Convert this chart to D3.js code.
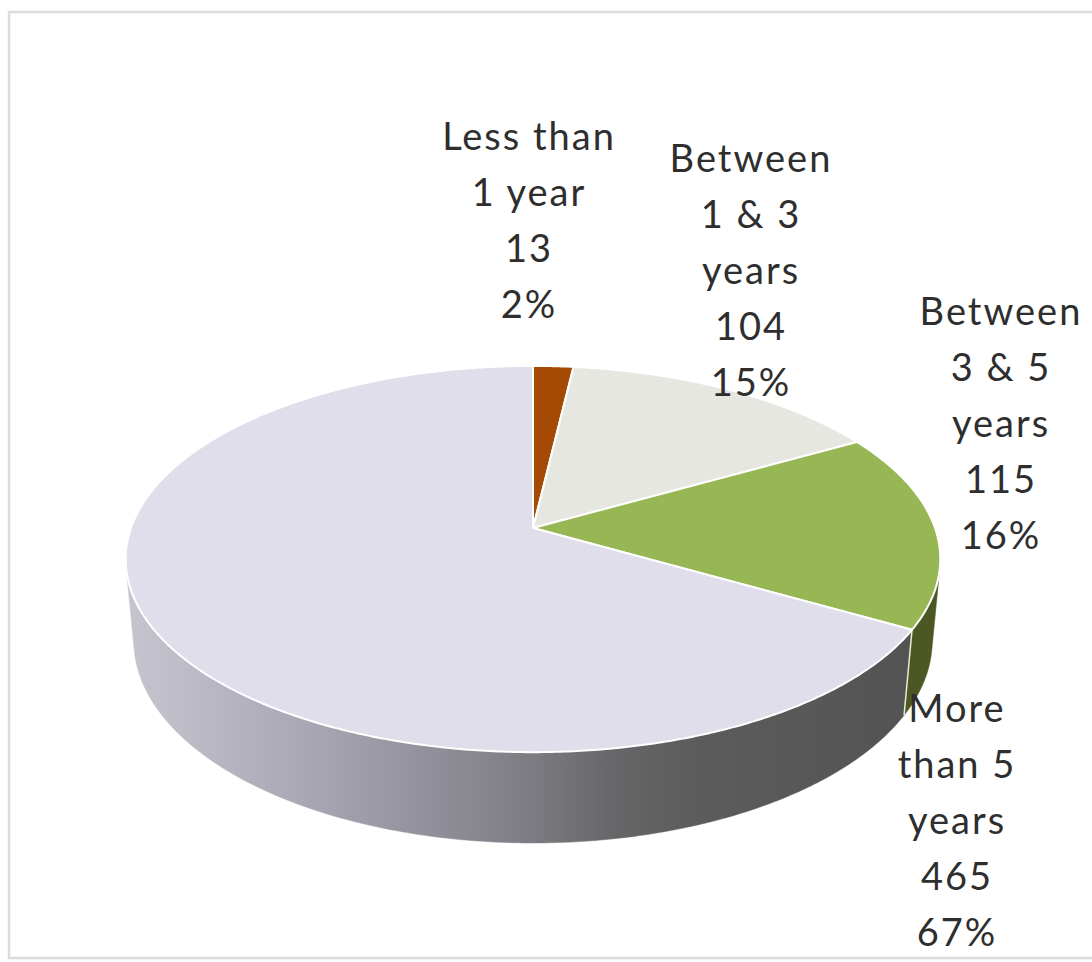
<!DOCTYPE html>
<html>
<head>
<meta charset="utf-8">
<script src="https://cdn.jsdelivr.net/npm/d3@7"></script>
<style>
  html, body { margin: 0; padding: 0; background: #ffffff; }
  svg { display: block; }
</style>
</head>
<body>
<script>
// Years of experience, split into four bands
const categories = ["Less than 1 year", "Between 1 & 3 years", "Between 3 & 5 years", "More than 5 years"];
const labelLines = [["Less than", "1 year"], ["Between", "1 & 3", "years"], ["Between", "3 & 5", "years"], ["More", "than 5", "years"]];
const values = [13, 104, 115, 465];

const topColors  = ["#a44a04", "#e7e7e2", "#97b755", "#dfdeea"];
const sideColors = ["#5e2a02", "#9a9a94", "#4b5823", "url(#sideGrad)"];

// label anchors: centre x and first baseline y
const labelPos = [[529, 150], [751, 172], [1001, 325], [957, 722]];
const lineGap = 56;

const W = 1092, H = 962;
const svg = d3.select("body").append("svg").attr("width", W).attr("height", H);

// chart area frame
svg.append("rect")
  .attr("x", 9).attr("y", 12).attr("width", 1100).attr("height", 946)
  .attr("fill", "none").attr("stroke", "#dcdcdc").attr("stroke-width", 2.5);

// perspective disc: centre, scale, tilt, camera distance, thickness
const cx = 533, cy = 528, K = 402;
const phi = Math.asin(0.468);
const sinP = Math.sin(phi), cosP = Math.cos(phi);
const Dcam = 5.5, thick = 0.232;

function project(theta, r, h) {
  const x = r * Math.sin(theta), z = -r * Math.cos(theta), y = h;
  const d = z * cosP + y * sinP;
  const s = Dcam / (Dcam - d);
  return [cx + x * s * K, cy + (z * sinP - y * cosP) * s * K];
}

function rimPoints(a0, a1, h) {
  const n = Math.max(2, Math.ceil(Math.abs(a1 - a0) / (Math.PI / 360)));
  const pts = [];
  for (let i = 0; i <= n; i++) pts.push(project(a0 + (a1 - a0) * i / n, 1, h));
  return pts;
}

const line = d3.line().curve(d3.curveLinear);

const defs = svg.append("defs");
const grad = defs.append("linearGradient")
  .attr("id", "sideGrad").attr("gradientUnits", "userSpaceOnUse")
  .attr("x1", 126).attr("y1", 0).attr("x2", 915).attr("y2", 0);
[[0, "#c6c5cf"], [0.2, "#acabb8"], [0.4, "#8f8e98"], [0.5, "#7f7e85"],
 [0.62, "#666668"], [0.72, "#5c5c5c"], [1, "#535353"]]
  .forEach(([o, c]) => grad.append("stop").attr("offset", o).attr("stop-color", c));

const arcs = d3.pie().sort(null).value(d => d).startAngle(0).endAngle(2 * Math.PI)(values);
const total = d3.sum(values);

// the outer wall faces the viewer only over this range of angles
const vis0 = Math.acos(-1 / (Dcam * cosP));
const vis1 = 2 * Math.PI - vis0;

const sides = svg.append("g");
arcs.forEach((a, i) => {
  const s0 = Math.max(a.startAngle, vis0), s1 = Math.min(a.endAngle, vis1);
  if (s1 <= s0) return;
  const pts = rimPoints(s0, s1, 0).concat(rimPoints(s1, s0, -thick));
  sides.append("path").attr("d", line(pts) + "Z")
    .attr("fill", sideColors[i]).attr("stroke", sideColors[i]).attr("stroke-width", 0.5);
});

// light seam where the green wall meets the grey wall
arcs.forEach(a => {
  if (a.startAngle > vis0 && a.startAngle < vis1) {
    svg.append("path")
      .attr("d", line([project(a.startAngle, 1, 0), project(a.startAngle, 1, -thick)]))
      .attr("stroke", "#e6ecd6").attr("stroke-width", 1.5).attr("fill", "none");
  }
});

// top faces
const tops = svg.append("g");
arcs.forEach((a, i) => {
  const pts = [project(0, 0, 0)].concat(rimPoints(a.startAngle, a.endAngle, 0));
  tops.append("path").attr("d", line(pts) + "Z")
    .attr("fill", topColors[i])
    .attr("stroke", "#ffffff").attr("stroke-width", 2).attr("stroke-linejoin", "round");
});

// data labels: category lines, count, percentage
const labels = svg.append("g")
  .attr("font-family", "Lato, 'Open Sans', sans-serif")
  .attr("font-size", 38)
  .attr("letter-spacing", 2)
  .attr("fill", "#2e2e2e")
  .attr("text-anchor", "middle");

arcs.forEach((a, i) => {
  const lines = labelLines[i].concat([String(values[i]), Math.round(values[i] / total * 100) + "%"]);
  const t = labels.append("text").attr("x", labelPos[i][0]).attr("y", labelPos[i][1]);
  lines.forEach((s, j) => {
    t.append("tspan").attr("x", labelPos[i][0]).attr("y", labelPos[i][1] + j * lineGap).text(s);
  });
});
</script>
</body>
</html>
